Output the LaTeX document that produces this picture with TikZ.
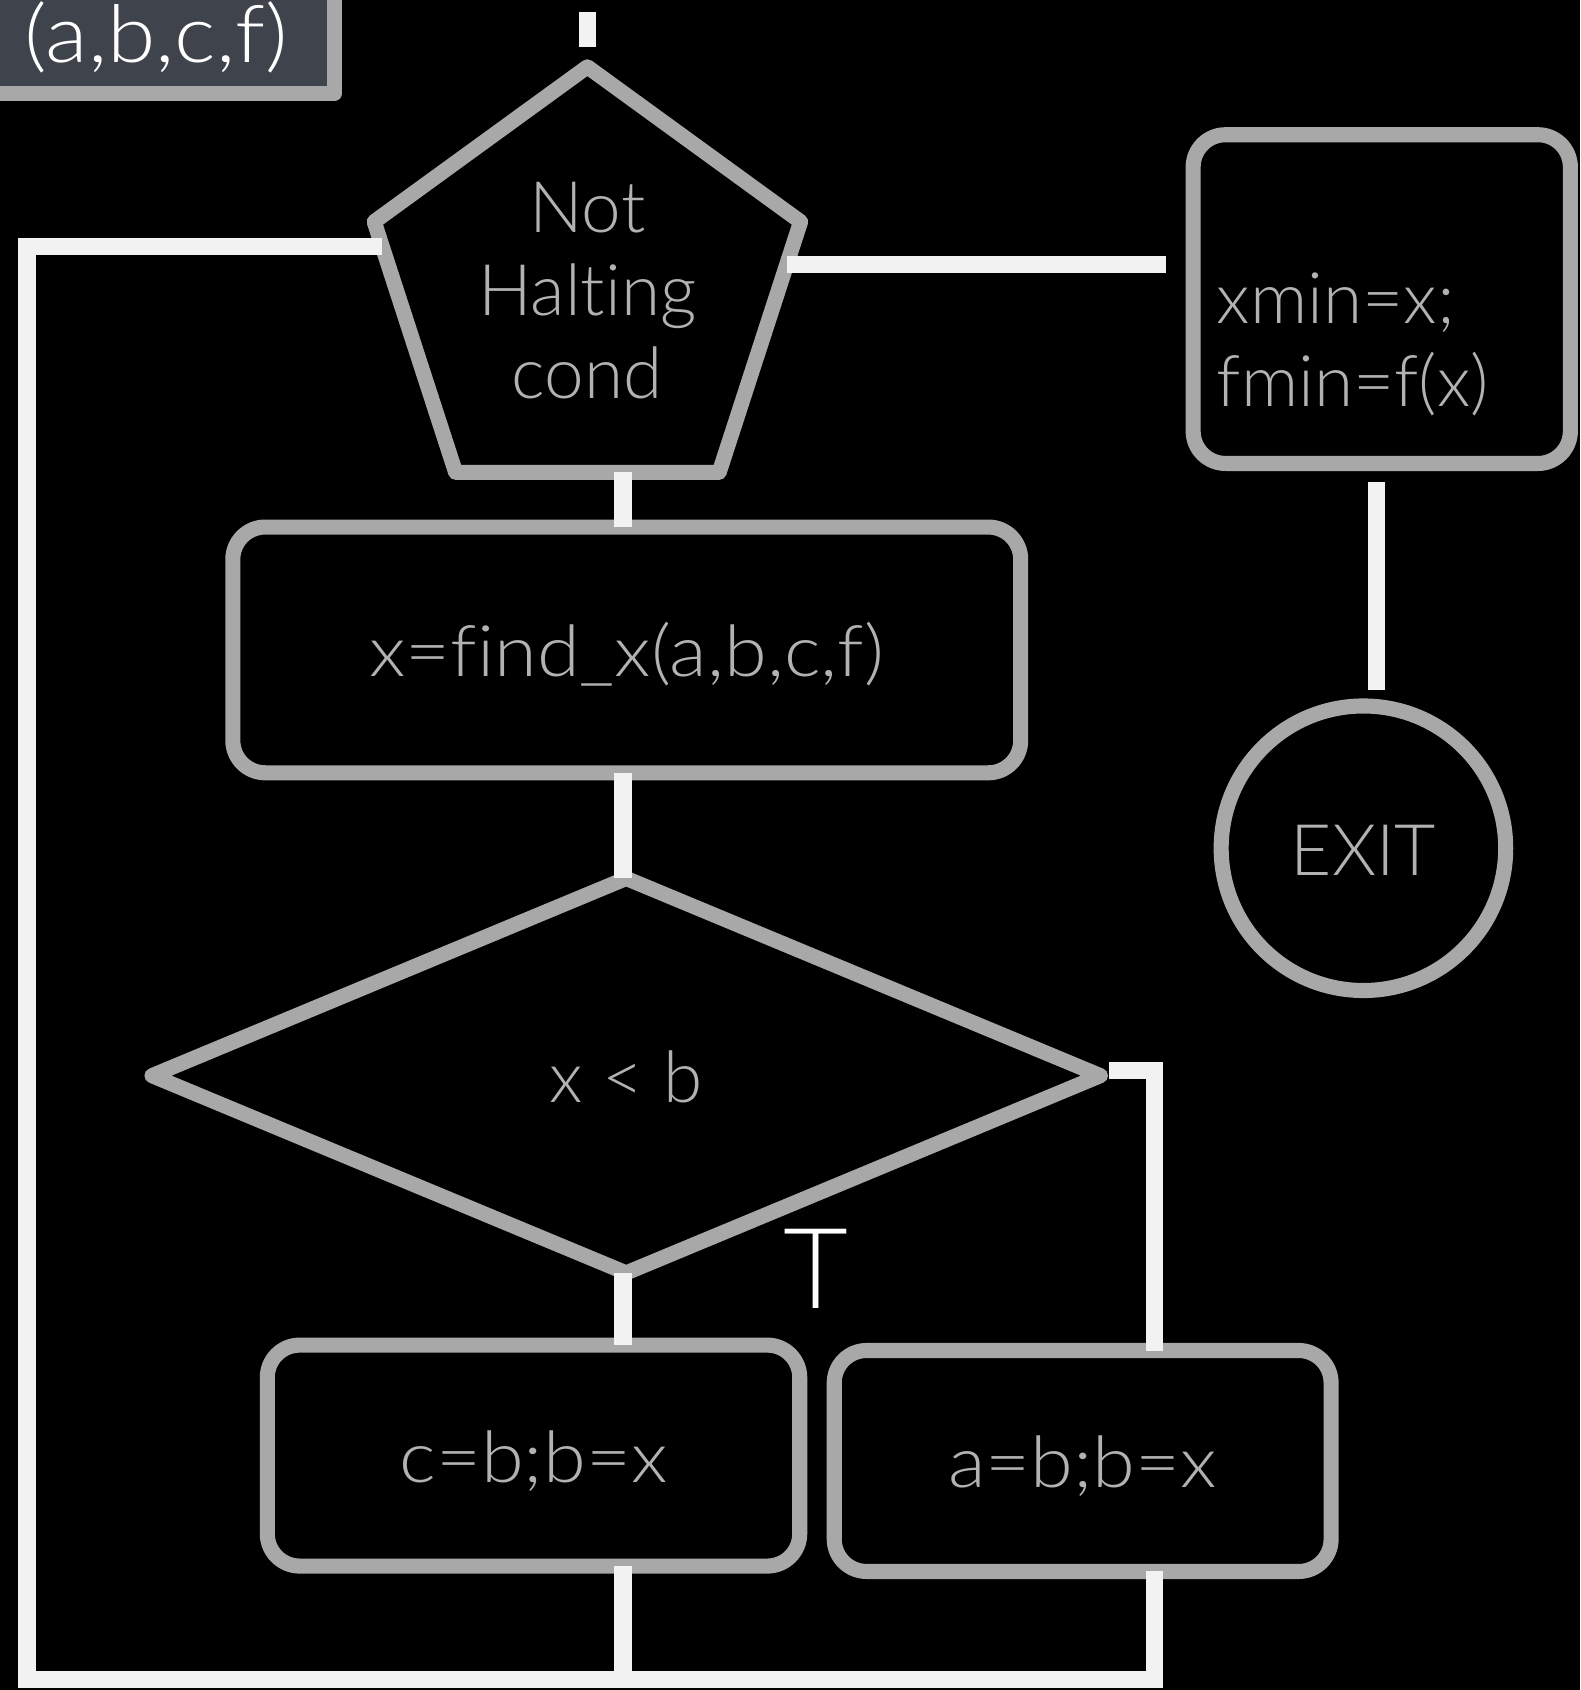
\documentclass[tikz,border=0pt]{standalone}
\usepackage{fontspec}
\setmainfont{Lato Light}[Ligatures=NoCommon]
\newfontfamily\widelato{Lato Light}[Ligatures=NoCommon, FakeStretch=1.09]
\newfontfamily\labellato{Lato Light}[Ligatures=NoCommon, FakeStretch=1.10]
\usetikzlibrary{shapes.geometric,calc}
\definecolor{chalkgray}{HTML}{A8A8A8}
\definecolor{chalkwhite}{HTML}{F2F2F2}
\definecolor{txtgray}{HTML}{B2B2B2}
\definecolor{labfill}{HTML}{3F444C}
\tikzset{
  outl/.style={draw=chalkgray, line width=7pt, line join=round, outer sep=0pt, inner sep=0pt},
  conn/.style={draw=chalkwhite, line width=8pt},
  gtext/.style={text=txtgray, font=\fontsize{33pt}{38.5pt}\selectfont},
  wtext/.style={text=txtgray, font=\widelato\fontsize{33pt}{38.5pt}\selectfont},
  boxtext/.style={text height=25pt, text depth=0pt},
  rbox/.style={outl, rounded corners=15pt, wtext, boxtext},
}
\begin{document}
\begin{tikzpicture}[x=0.5pt, y=-0.5pt]
\useasboundingbox (0,0) rectangle (1466,1568);
\fill[black] (0,0) rectangle (1466,1568);
\clip (0,0) rectangle (1466,1568);

% nodes
\node[outl, fill=labfill, minimum width=165pt, minimum height=53.5pt, text=white,
      font=\labellato\fontsize{37pt}{44pt}\selectfont, text height=24.5pt, text depth=0pt]
      (lab) at (145,33.5) {(a,b,c,f)};
\node[outl, regular polygon, regular polygon sides=5, minimum size=208pt, gtext, align=center]
      (pent) at (545,270) {Not\\Halting\\cond};
\node[rbox, minimum width=365.5pt, minimum height=114pt] (fx) at (581.5,603) {x=find\_x(a,b,c,f)};
\node[outl, diamond, minimum width=440pt, minimum height=183pt, gtext, boxtext] (cmp) at (581,998) {x < b};
\node[rbox, minimum width=247pt, minimum height=102.5pt] (cbox) at (495,1350.5) {c=b;b=x};
\node[rbox, minimum width=230.5pt, minimum height=102.5pt] (abox) at (1004.5,1355.5) {a=b;b=x};
\node[outl, rounded corners=15pt, gtext, minimum width=175pt, minimum height=152.5pt,
      text width=153pt, align=left] (xbox) at (1282,277.5) {\strut\\xmin=x;\\fmin=f(x)};
\node[outl, circle, minimum size=132pt, gtext, boxtext] (exit) at (1265,787) {EXIT};
\node[text=white, font=\fontsize{52pt}{60pt}\selectfont, anchor=base, inner sep=0pt] (tlab) at (757,1214) {T};

% helper coordinates
\coordinate (instart) at (545,11);
\coordinate (mid) at (578,0);
\coordinate (rx) at (1071,993);
\coordinate (ex) at (1277,540);
\coordinate (loopB) at (25,1558);
\path (pent.corner 5) -- (pent.corner 4) coordinate[pos=0.17] (pr);
\path (pent.corner 2) -- (pent.corner 3) coordinate[pos=0.1] (pl);

% connectors
\draw[conn, shorten >=9pt] (instart) -- (pent.corner 1);
\draw[conn, shorten >=12.5pt] (pr) -- (pr -| xbox.west);
\draw[conn, shorten <=8.5pt, shorten >=7.5pt] (xbox.south -| ex) -- (ex |- exit.north);
\draw[conn] (pent.side 3 -| mid) -- (fx.north -| mid);
\draw[conn] (fx.south -| mid) -- (cmp.north -| mid);
\draw[conn] (cmp.south -| mid) -- (mid |- cbox.north);
\draw[conn] ([xshift=4pt]cmp.east |- rx) -- (rx) -- (rx |- abox.north);
\draw[conn] (cbox.south -| mid) -- (mid |- loopB);
\draw[conn] (abox.south -| rx) -- (rx |- loopB) -- (loopB) -- (loopB |- pl) -- (pl);
\end{tikzpicture}
\end{document}
